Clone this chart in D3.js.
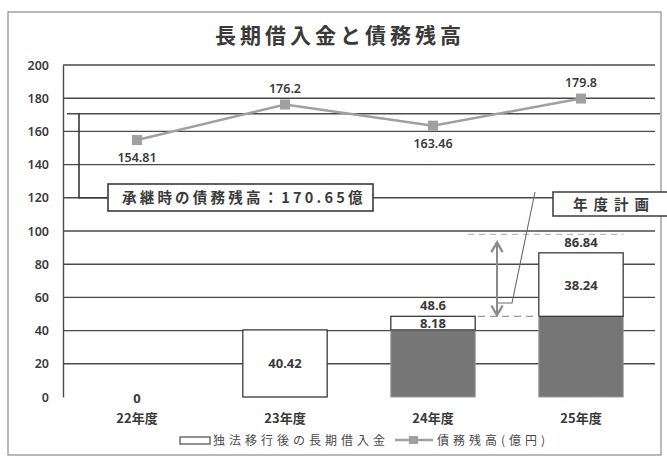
<!DOCTYPE html>
<html lang="ja">
<head>
<meta charset="utf-8">
<script src="https://cdn.jsdelivr.net/npm/d3@7"></script>
<style>
  html, body { margin: 0; padding: 0; background: #fff; }
  svg { display: block; font-family: "Noto Sans CJK JP", "Noto Sans", sans-serif; }
</style>
</head>
<body>
<svg id="chart" width="667" height="462"></svg>
<script>
// 年度
const categories = ["22年度", "23年度", "24年度", "25年度"];
// 前年度までの借入残(下段・グレー)
const priorLoan = [0, 0, 40.42, 48.6];
// 当年度の独法移行後の長期借入金(上段・白)
const newLoan = [0, 40.42, 8.18, 38.24];
// 借入金累計(棒の上に表示)
const loanTotals = [null, null, 48.6, 86.84];
// 債務残高(億円)
const debtBalance = [154.81, 176.2, 163.46, 179.8];
// 承継時の債務残高
const inheritedDebt = 170.65;
// 年度計画の上限・下限
const planUpper = 98;
const planLower = 48.6;
const yTicks = [0, 20, 40, 60, 80, 100, 120, 140, 160, 180, 200];

const svg = d3.select("#chart");
const plotL = 63, plotR = 655, plotT = 65, plotB = 397;

const x = d3.scaleBand().domain(categories).range([plotL, plotR])
  .paddingInner(0.43).paddingOuter(0.215);
const y = d3.scaleLinear().domain([0, 200]).range([plotB, plotT]);
const cx = c => x(c) + x.bandwidth() / 2;

const ink = "#3a3a3a";

// 外枠
svg.append("rect").attr("x", 8).attr("y", 12).attr("width", 653).attr("height", 443)
  .attr("fill", "none").attr("stroke", "#8a8a8a").attr("stroke-width", 1.2);

// タイトル
svg.append("text").attr("x", 340).attr("y", 43).attr("text-anchor", "middle")
  .attr("font-size", 21).attr("font-weight", 700).attr("letter-spacing", 4)
  .attr("fill", ink).text("長期借入金と債務残高");

// 目盛線
svg.append("g").selectAll("line").data(yTicks.filter(t => t > 0)).join("line")
  .attr("x1", plotL).attr("x2", plotR).attr("y1", d => y(d)).attr("y2", d => y(d))
  .attr("stroke", "#4a4a4a").attr("stroke-width", 1.4);

// Y軸
const yAxis = d3.axisLeft(y).tickValues(yTicks).tickSize(0).tickPadding(14);
const gy = svg.append("g").attr("transform", `translate(${plotL},0)`).call(yAxis);
gy.select(".domain").attr("stroke", "#4a4a4a").attr("stroke-width", 1.4);
gy.selectAll("text").attr("font-size", 12.5).attr("fill", ink)
  .attr("font-family", "Noto Sans, sans-serif").attr("font-weight", 600);

// 承継時の債務残高の線と注記
svg.append("line").attr("x1", 67).attr("x2", 660)
  .attr("y1", y(inheritedDebt)).attr("y2", y(inheritedDebt))
  .attr("stroke", "#4a4a4a").attr("stroke-width", 1.4);
svg.append("polyline")
  .attr("points", `79,${y(inheritedDebt)} 79,${y(120)} 108,${y(120)}`)
  .attr("fill", "none").attr("stroke", "#3a3a3a").attr("stroke-width", 1.6);
svg.append("rect").attr("x", 108).attr("y", 184).attr("width", 265).attr("height", 27)
  .attr("fill", "#fff").attr("stroke", "#3a3a3a").attr("stroke-width", 1.6);
svg.append("text").attr("x", 122).attr("y", 203).attr("font-size", 14.5)
  .attr("font-weight", 700).attr("letter-spacing", 3.2).attr("fill", ink)
  .text("承継時の債務残高：" + inheritedDebt + "億");

// 積み上げ棒
const stacked = categories.map((c, i) => ({ c, lo: priorLoan[i], hi: newLoan[i] }));
const bars = svg.append("g");
bars.selectAll("rect.lo").data(stacked.filter(d => d.lo > 0)).join("rect")
  .attr("class", "lo")
  .attr("x", d => x(d.c)).attr("width", x.bandwidth())
  .attr("y", d => y(d.lo)).attr("height", d => y(0) - y(d.lo))
  .attr("fill", "#767676").attr("stroke", "#9a9a9a").attr("stroke-width", 1);
bars.selectAll("rect.hi").data(stacked.filter(d => d.hi > 0)).join("rect")
  .attr("class", "hi")
  .attr("x", d => x(d.c)).attr("width", x.bandwidth())
  .attr("y", d => y(d.lo + d.hi)).attr("height", d => y(d.lo) - y(d.lo + d.hi))
  .attr("fill", "#fff").attr("stroke", "#3a3a3a").attr("stroke-width", 1.3);

// 棒の数値
const lbl = svg.append("g").attr("font-size", 13).attr("font-weight", 700)
  .attr("fill", ink).attr("text-anchor", "middle")
  .attr("font-family", "Noto Sans, sans-serif");
stacked.forEach((d, i) => {
  if (d.hi === 0 && d.lo === 0) {
    lbl.append("text").attr("x", cx(d.c)).attr("y", y(0) + 6).text("0");
  } else {
    lbl.append("text").attr("x", cx(d.c))
      .attr("y", (y(d.lo) + y(d.lo + d.hi)) / 2 + 5).text(d.hi);
  }
  if (loanTotals[i] !== null) {
    lbl.append("text").attr("x", cx(d.c)).attr("y", y(loanTotals[i]) - 6).text(loanTotals[i]);
  }
});

// 年度計画の範囲
const lastBand = x(categories[3]);
svg.append("line").attr("x1", 468).attr("x2", lastBand + x.bandwidth())
  .attr("y1", y(planUpper)).attr("y2", y(planUpper))
  .attr("stroke", "#a8a8a8").attr("stroke-width", 1).attr("stroke-dasharray", "6,5");
svg.append("line").attr("x1", 478).attr("x2", lastBand)
  .attr("y1", y(planLower)).attr("y2", y(planLower))
  .attr("stroke", "#9a9a9a").attr("stroke-width", 1.2).attr("stroke-dasharray", "7,5");
const defs = svg.append("defs");
defs.append("marker").attr("id", "ah").attr("viewBox", "0 0 10 10")
  .attr("refX", 8).attr("refY", 5).attr("markerWidth", 7).attr("markerHeight", 7)
  .attr("orient", "auto-start-reverse")
  .append("path").attr("d", "M1,1 L8,5 L1,9").attr("fill", "none")
  .attr("stroke", "#8a8a8a").attr("stroke-width", 1.6);
svg.append("line").attr("x1", 497).attr("x2", 497)
  .attr("y1", y(planUpper) + 8).attr("y2", y(planLower) - 1)
  .attr("stroke", "#8a8a8a").attr("stroke-width", 2)
  .attr("marker-start", "url(#ah)").attr("marker-end", "url(#ah)");
svg.append("polyline").attr("points", `498,303 512,303 535,192`)
  .attr("fill", "none").attr("stroke", "#6a6a6a").attr("stroke-width", 1.1);
svg.append("rect").attr("x", 553).attr("y", 192).attr("width", 120).attr("height", 24)
  .attr("fill", "#fff").attr("stroke", "#3a3a3a").attr("stroke-width", 1.5);
svg.append("text").attr("x", 573).attr("y", 210).attr("font-size", 14.5)
  .attr("font-weight", 700).attr("letter-spacing", 6).attr("fill", ink).text("年度計画");

// 債務残高の折れ線
const line = d3.line().x((d, i) => cx(categories[i])).y(d => y(d));
svg.append("path").datum(debtBalance).attr("d", line)
  .attr("fill", "none").attr("stroke", "#a0a0a0").attr("stroke-width", 2.5);
svg.append("g").selectAll("rect").data(debtBalance).join("rect")
  .attr("x", (d, i) => cx(categories[i]) - 5).attr("y", d => y(d) - 5)
  .attr("width", 10).attr("height", 10).attr("fill", "#a0a0a0");
const above = [false, true, false, true];
svg.append("g").attr("font-size", 12.5).attr("font-weight", 600).attr("fill", ink)
  .attr("text-anchor", "middle").attr("font-family", "Noto Sans, sans-serif")
  .selectAll("text").data(debtBalance).join("text")
  .attr("x", (d, i) => cx(categories[i]))
  .attr("y", (d, i) => above[i] ? y(d) - 12 : y(d) + 22)
  .text(d => d);

// X軸の年度
svg.append("g").attr("font-size", 13).attr("font-weight", 700).attr("fill", ink)
  .attr("text-anchor", "middle")
  .selectAll("text").data(categories).join("text")
  .attr("x", d => cx(d)).attr("y", 423).text(d => d);

// 凡例
const lg = svg.append("g").attr("font-size", 12).attr("fill", "#4a4a4a");
lg.append("rect").attr("x", 180).attr("y", 437).attr("width", 30).attr("height", 7)
  .attr("fill", "#fff").attr("stroke", "#4a4a4a").attr("stroke-width", 1.2);
lg.append("text").attr("x", 213).attr("y", 445).attr("letter-spacing", 4)
  .text("独法移行後の長期借入金");
lg.append("line").attr("x1", 395).attr("x2", 433).attr("y1", 440).attr("y2", 440)
  .attr("stroke", "#a0a0a0").attr("stroke-width", 2.5);
lg.append("rect").attr("x", 409).attr("y", 436).attr("width", 9).attr("height", 8)
  .attr("fill", "#a0a0a0");
lg.append("text").attr("x", 437).attr("y", 445).attr("letter-spacing", 4)
  .text("債務残高(億円)");
</script>
</body>
</html>
